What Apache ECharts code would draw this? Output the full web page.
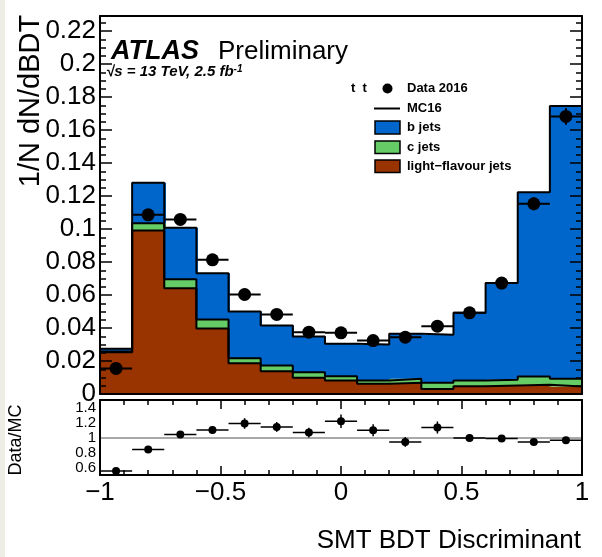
<!DOCTYPE html>
<html>
<head>
<meta charset="utf-8">
<script src="https://cdn.jsdelivr.net/npm/echarts@6/dist/echarts.min.js"></script>
<style>
  html, body { margin: 0; padding: 0; background: #ffffff; }
  #chart { width: 602px; height: 557px; }
</style>
</head>
<body>
<div id="chart"></div>
<script>
// Binning of the SMT BDT discriminant
const xMin = -1;
const xMax = 1;
const nBins = 15;

// Normalised MC templates per flavour (stacked: light, c, b)
const lightJets = [0.0253, 0.0991, 0.0641, 0.0397, 0.0187, 0.0138, 0.0098, 0.0082, 0.0062, 0.0068, 0.0031, 0.0047, 0.0052, 0.0056, 0.0045];
const cJets     = [0.0004, 0.0044, 0.0055, 0.0054, 0.0030, 0.0035, 0.0034, 0.0026, 0.0020, 0.0024, 0.0037, 0.0035, 0.0034, 0.0050, 0.0047];
const bJets     = [0.0017, 0.0245, 0.0311, 0.0281, 0.0283, 0.0242, 0.0216, 0.0196, 0.0218, 0.0273, 0.0291, 0.0410, 0.0586, 0.1117, 0.1653];

// Data 2016, normalised
const data2016 = [0.0155, 0.1086, 0.1058, 0.0813, 0.0603, 0.0482, 0.0375, 0.0371, 0.0324, 0.0344, 0.0411, 0.0492, 0.0672, 0.1153, 0.1682];
const dataErr  = [0.0015, 0.0020, 0.0020, 0.0020, 0.0020, 0.0020, 0.0020, 0.0020, 0.0020, 0.0020, 0.0020, 0.0025, 0.0030, 0.0040, 0.0050];

// Data/MC ratio panel
const ratio    = [0.562, 0.847, 1.045, 1.105, 1.190, 1.145, 1.070, 1.220, 1.100, 0.947, 1.137, 1.000, 0.992, 0.947, 0.970];
const ratioErr = [0.03, 0.02, 0.03, 0.05, 0.07, 0.065, 0.065, 0.09, 0.08, 0.065, 0.08, 0.05, 0.04, 0.04, 0.04];

// Tick labels
const yMajorTicks = [0, 0.02, 0.04, 0.06, 0.08, 0.1, 0.12, 0.14, 0.16, 0.18, 0.2, 0.22];
const ratioTickLabels = [0.6, 0.8, 1, 1.2, 1.4];

const FONT = '"Liberation Sans", Arial, Helvetica, sans-serif';
const COL_B = '#0066cc';
const COL_C = '#66cc66';
const COL_L = '#993300';

const binWidth = (xMax - xMin) / nBins;
const edges = [];
for (let i = 0; i <= nBins; i++) edges.push(+(xMin + i * binWidth).toFixed(6));
const centers = edges.slice(0, nBins).map((e) => e + binWidth / 2);

const yMinorTicks = [];
for (let k = 0; k <= 45; k++) yMinorTicks.push(+(k * 0.005).toFixed(4));

// cumulative stack levels
const lvlLight = lightJets.slice();
const lvlC = lightJets.map((v, i) => v + cJets[i]);
const lvlTotal = lvlC.map((v, i) => v + bJets[i]);

function stepPoints(levels) {
  const pts = levels.map((v, i) => [edges[i], v]);
  pts.push([edges[nBins], levels[nBins - 1]]);
  return pts;
}

function renderStack(params, api) {
  const i = api.value(0);
  const x0 = edges[i], x1 = edges[i + 1];
  const parts = [lightJets[i], cJets[i], bJets[i]];
  const colors = [COL_L, COL_C, COL_B];
  const children = [];
  let base = 0;
  parts.forEach((v, k) => {
    const p0 = api.coord([x0, base]);
    const p1 = api.coord([x1, base + v]);
    const left = Math.floor(p0[0]);
    const right = Math.ceil(p1[0]) + 1;
    children.push({
      type: 'rect',
      shape: { x: left, y: p1[1], width: right - left, height: p0[1] - p1[1] },
      style: { fill: colors[k] }
    });
    base += v;
  });
  return { type: 'group', children };
}

function makeErrorRenderer(lw) {
  return function (params, api) {
    const x = api.value(0), y = api.value(1), e = api.value(2);
    const l = api.coord([x - binWidth / 2, y]);
    const r = api.coord([x + binWidth / 2, y]);
    const t = api.coord([x, y + e]);
    const b = api.coord([x, y - e]);
    const st = { stroke: '#000', lineWidth: lw };
    return {
      type: 'group',
      children: [
        { type: 'line', shape: { x1: l[0], y1: l[1], x2: r[0], y2: r[1] }, style: st },
        { type: 'line', shape: { x1: t[0], y1: t[1], x2: b[0], y2: b[1] }, style: st }
      ]
    };
  };
}

const frameLine = { show: true, onZero: false, lineStyle: { color: '#000', width: 2 } };
const noLine = { show: false, onZero: false };
const tickStyle = { color: '#000', width: 1.5 };
const minus = (v) => (v < 0 ? '\u2212' : '') + String(+Math.abs(v).toFixed(3));

const chart = echarts.init(document.getElementById('chart'), null, { renderer: 'canvas' });

const option = {
  animation: false,
  backgroundColor: '#ffffff',
  grid: [
    { left: 100, top: 16, width: 482, height: 378 },
    { left: 100, top: 400, width: 482, height: 75 }
  ],
  xAxis: [
    { gridIndex: 0, type: 'value', min: xMin, max: xMax, position: 'bottom', axisLine: frameLine,
      axisTick: { show: false }, axisLabel: { show: false }, splitLine: { show: false }, z: 10 },
    { gridIndex: 0, type: 'value', min: xMin, max: xMax, position: 'top', axisLine: frameLine,
      axisTick: { show: false }, axisLabel: { show: false }, splitLine: { show: false }, z: 10 },
    { gridIndex: 1, type: 'value', min: xMin, max: xMax, interval: 0.5, position: 'bottom', axisLine: frameLine,
      axisTick: { show: true, inside: true, length: 9, lineStyle: tickStyle },
      minorTick: { show: true, splitNumber: 5, length: 5, lineStyle: tickStyle },
      axisLabel: { show: true, fontSize: 26, fontFamily: FONT, color: '#000', margin: 5, formatter: minus },
      splitLine: { show: false }, z: 10 },
    { gridIndex: 1, type: 'value', min: xMin, max: xMax, interval: 0.5, position: 'top', axisLine: frameLine,
      axisTick: { show: true, inside: true, length: 9, lineStyle: tickStyle },
      minorTick: { show: true, splitNumber: 5, length: 5, lineStyle: tickStyle },
      axisLabel: { show: false }, splitLine: { show: false }, z: 10 }
  ],
  yAxis: [
    { gridIndex: 0, type: 'value', min: 0, max: 378 / 1650, position: 'left', axisLine: frameLine,
      axisTick: { show: true, inside: true, length: 12, lineStyle: tickStyle, customValues: yMajorTicks },
      axisLabel: { show: true, fontSize: 26, fontFamily: FONT, color: '#000', margin: 4, customValues: yMajorTicks,
        hideOverlap: false, formatter: (v) => String(+v.toFixed(3)) },
      splitLine: { show: false }, z: 10 },
    { gridIndex: 0, type: 'value', min: 0, max: 378 / 1650, position: 'left', axisLine: noLine,
      axisTick: { show: true, inside: true, length: 6, lineStyle: tickStyle, customValues: yMinorTicks },
      axisLabel: { show: false }, splitLine: { show: false }, z: 10 },
    { gridIndex: 0, type: 'value', min: 0, max: 378 / 1650, position: 'right', axisLine: frameLine,
      axisTick: { show: true, inside: true, length: 12, lineStyle: tickStyle, customValues: yMajorTicks },
      axisLabel: { show: false }, splitLine: { show: false }, z: 10 },
    { gridIndex: 0, type: 'value', min: 0, max: 378 / 1650, position: 'right', axisLine: noLine,
      axisTick: { show: true, inside: true, length: 6, lineStyle: tickStyle, customValues: yMinorTicks },
      axisLabel: { show: false }, splitLine: { show: false }, z: 10 },
    { gridIndex: 1, type: 'value', min: 0.51, max: 1.5, position: 'left', axisLine: frameLine,
      axisTick: { show: false },
      axisLabel: { show: true, fontSize: 15, fontFamily: FONT, color: '#000', margin: 4, customValues: ratioTickLabels,
        hideOverlap: false, formatter: (v) => String(+v.toFixed(2)) },
      splitLine: { show: false }, z: 10 },
    { gridIndex: 1, type: 'value', min: 0.51, max: 1.5, position: 'right', axisLine: frameLine,
      axisTick: { show: false }, axisLabel: { show: false }, splitLine: { show: false }, z: 10 }
  ],
  series: [
    // stacked flavour templates
    { type: 'custom', name: 'stack', xAxisIndex: 0, yAxisIndex: 0, renderItem: renderStack,
      data: centers.map((c, i) => [i]), z: 2, silent: true },
    // outlines of each stack level
    { type: 'line', name: 'light-flavour jets', xAxisIndex: 0, yAxisIndex: 0, step: 'end', symbol: 'none',
      data: stepPoints(lvlLight), lineStyle: { color: '#000', width: 2 }, z: 3 },
    { type: 'line', name: 'c jets', xAxisIndex: 0, yAxisIndex: 0, step: 'end', symbol: 'none',
      data: stepPoints(lvlC), lineStyle: { color: '#000', width: 2 }, z: 3 },
    { type: 'line', name: 'MC16', xAxisIndex: 0, yAxisIndex: 0, step: 'end', symbol: 'none',
      data: stepPoints(lvlTotal), lineStyle: { color: '#000', width: 2 }, z: 3 },
    // data points
    { type: 'custom', name: 'data errors', xAxisIndex: 0, yAxisIndex: 0, renderItem: makeErrorRenderer(2),
      data: centers.map((c, i) => [c, data2016[i], dataErr[i]]), z: 4 },
    { type: 'scatter', name: 'Data 2016', xAxisIndex: 0, yAxisIndex: 0, symbol: 'circle', symbolSize: 13,
      itemStyle: { color: '#000', opacity: 1 }, data: centers.map((c, i) => [c, data2016[i]]), z: 5 },
    // ratio panel
    { type: 'line', name: 'unity', xAxisIndex: 2, yAxisIndex: 4, symbol: 'none',
      data: [[xMin, 1], [xMax, 1]], lineStyle: { color: '#8c8c8c', width: 1.5 }, z: 1 },
    { type: 'custom', name: 'ratio errors', xAxisIndex: 2, yAxisIndex: 4, renderItem: makeErrorRenderer(1.5),
      data: centers.map((c, i) => [c, ratio[i], ratioErr[i]]), z: 4 },
    { type: 'scatter', name: 'Data/MC', xAxisIndex: 2, yAxisIndex: 4, symbol: 'circle', symbolSize: 8,
      itemStyle: { color: '#000', opacity: 1 }, data: centers.map((c, i) => [c, ratio[i]]), z: 5 }
  ],
  graphic: [
    { type: 'rect', shape: { x: 0, y: 0, width: 5, height: 557 }, style: { fill: '#ededE6' }, z: 0 },
    // axis titles
    { type: 'text', x: 31, y: 101, rotation: Math.PI / 2, z: 20,
      style: { text: '1/N dN/dBDT', font: '29px ' + FONT, fill: '#000', align: 'center', verticalAlign: 'middle' } },
    { type: 'text', x: 16, y: 440, rotation: Math.PI / 2, z: 20,
      style: { text: 'Data/MC', font: '18px ' + FONT, fill: '#000', align: 'center', verticalAlign: 'middle' } },
    { type: 'text', x: 581, y: 541, z: 20,
      style: { text: 'SMT BDT Discriminant', font: '26px ' + FONT, fill: '#000', align: 'right', verticalAlign: 'middle' } },
    // experiment label
    { type: 'text', x: 111, y: 52, z: 20,
      style: { text: 'ATLAS', font: 'italic bold 27px ' + FONT, fill: '#000', align: 'left', verticalAlign: 'middle' } },
    { type: 'text', x: 218, y: 52, z: 20,
      style: { text: 'Preliminary', font: '26px ' + FONT, fill: '#000', align: 'left', verticalAlign: 'middle' } },
    { type: 'text', x: 106, y: 72, z: 20,
      style: { text: '{a|\u221As = 13 TeV, 2.5 fb}{b|-1}', align: 'left', verticalAlign: 'middle',
        rich: {
          a: { font: 'italic bold 15px ' + FONT, fill: '#000', color: '#000' },
          b: { font: 'italic bold 10px ' + FONT, fill: '#000', color: '#000', verticalAlign: 'top' }
        } } },
    // legend
    { type: 'text', x: 351, y: 88, z: 20,
      style: { text: 't  t', font: 'bold 13px ' + FONT, fill: '#000', align: 'left', verticalAlign: 'middle' } },
    { type: 'circle', shape: { cx: 387.5, cy: 88.5, r: 5 }, style: { fill: '#000' }, z: 20 },
    { type: 'text', x: 407, y: 88.5, z: 20,
      style: { text: 'Data 2016', font: 'bold 13px ' + FONT, fill: '#000', align: 'left', verticalAlign: 'middle' } },
    { type: 'line', shape: { x1: 374, y1: 108.5, x2: 400, y2: 108.5 }, style: { stroke: '#000', lineWidth: 2 }, z: 20 },
    { type: 'text', x: 407, y: 108.5, z: 20,
      style: { text: 'MC16', font: 'bold 13px ' + FONT, fill: '#000', align: 'left', verticalAlign: 'middle' } },
    { type: 'rect', shape: { x: 375, y: 121, width: 25, height: 13 }, style: { fill: COL_B, stroke: '#000', lineWidth: 1.5 }, z: 20 },
    { type: 'text', x: 407, y: 127.5, z: 20,
      style: { text: 'b jets', font: 'bold 13px ' + FONT, fill: '#000', align: 'left', verticalAlign: 'middle' } },
    { type: 'rect', shape: { x: 375, y: 141, width: 25, height: 12.5 }, style: { fill: COL_C, stroke: '#000', lineWidth: 1.5 }, z: 20 },
    { type: 'text', x: 407, y: 147, z: 20,
      style: { text: 'c jets', font: 'bold 13px ' + FONT, fill: '#000', align: 'left', verticalAlign: 'middle' } },
    { type: 'rect', shape: { x: 375, y: 160, width: 25, height: 12.5 }, style: { fill: COL_L, stroke: '#000', lineWidth: 1.5 }, z: 20 },
    { type: 'text', x: 407, y: 166, z: 20,
      style: { text: 'light\u2212flavour jets', font: 'bold 13px ' + FONT, fill: '#000', align: 'left', verticalAlign: 'middle' } }
  ]
};

chart.setOption(option);
</script>
</body>
</html>
